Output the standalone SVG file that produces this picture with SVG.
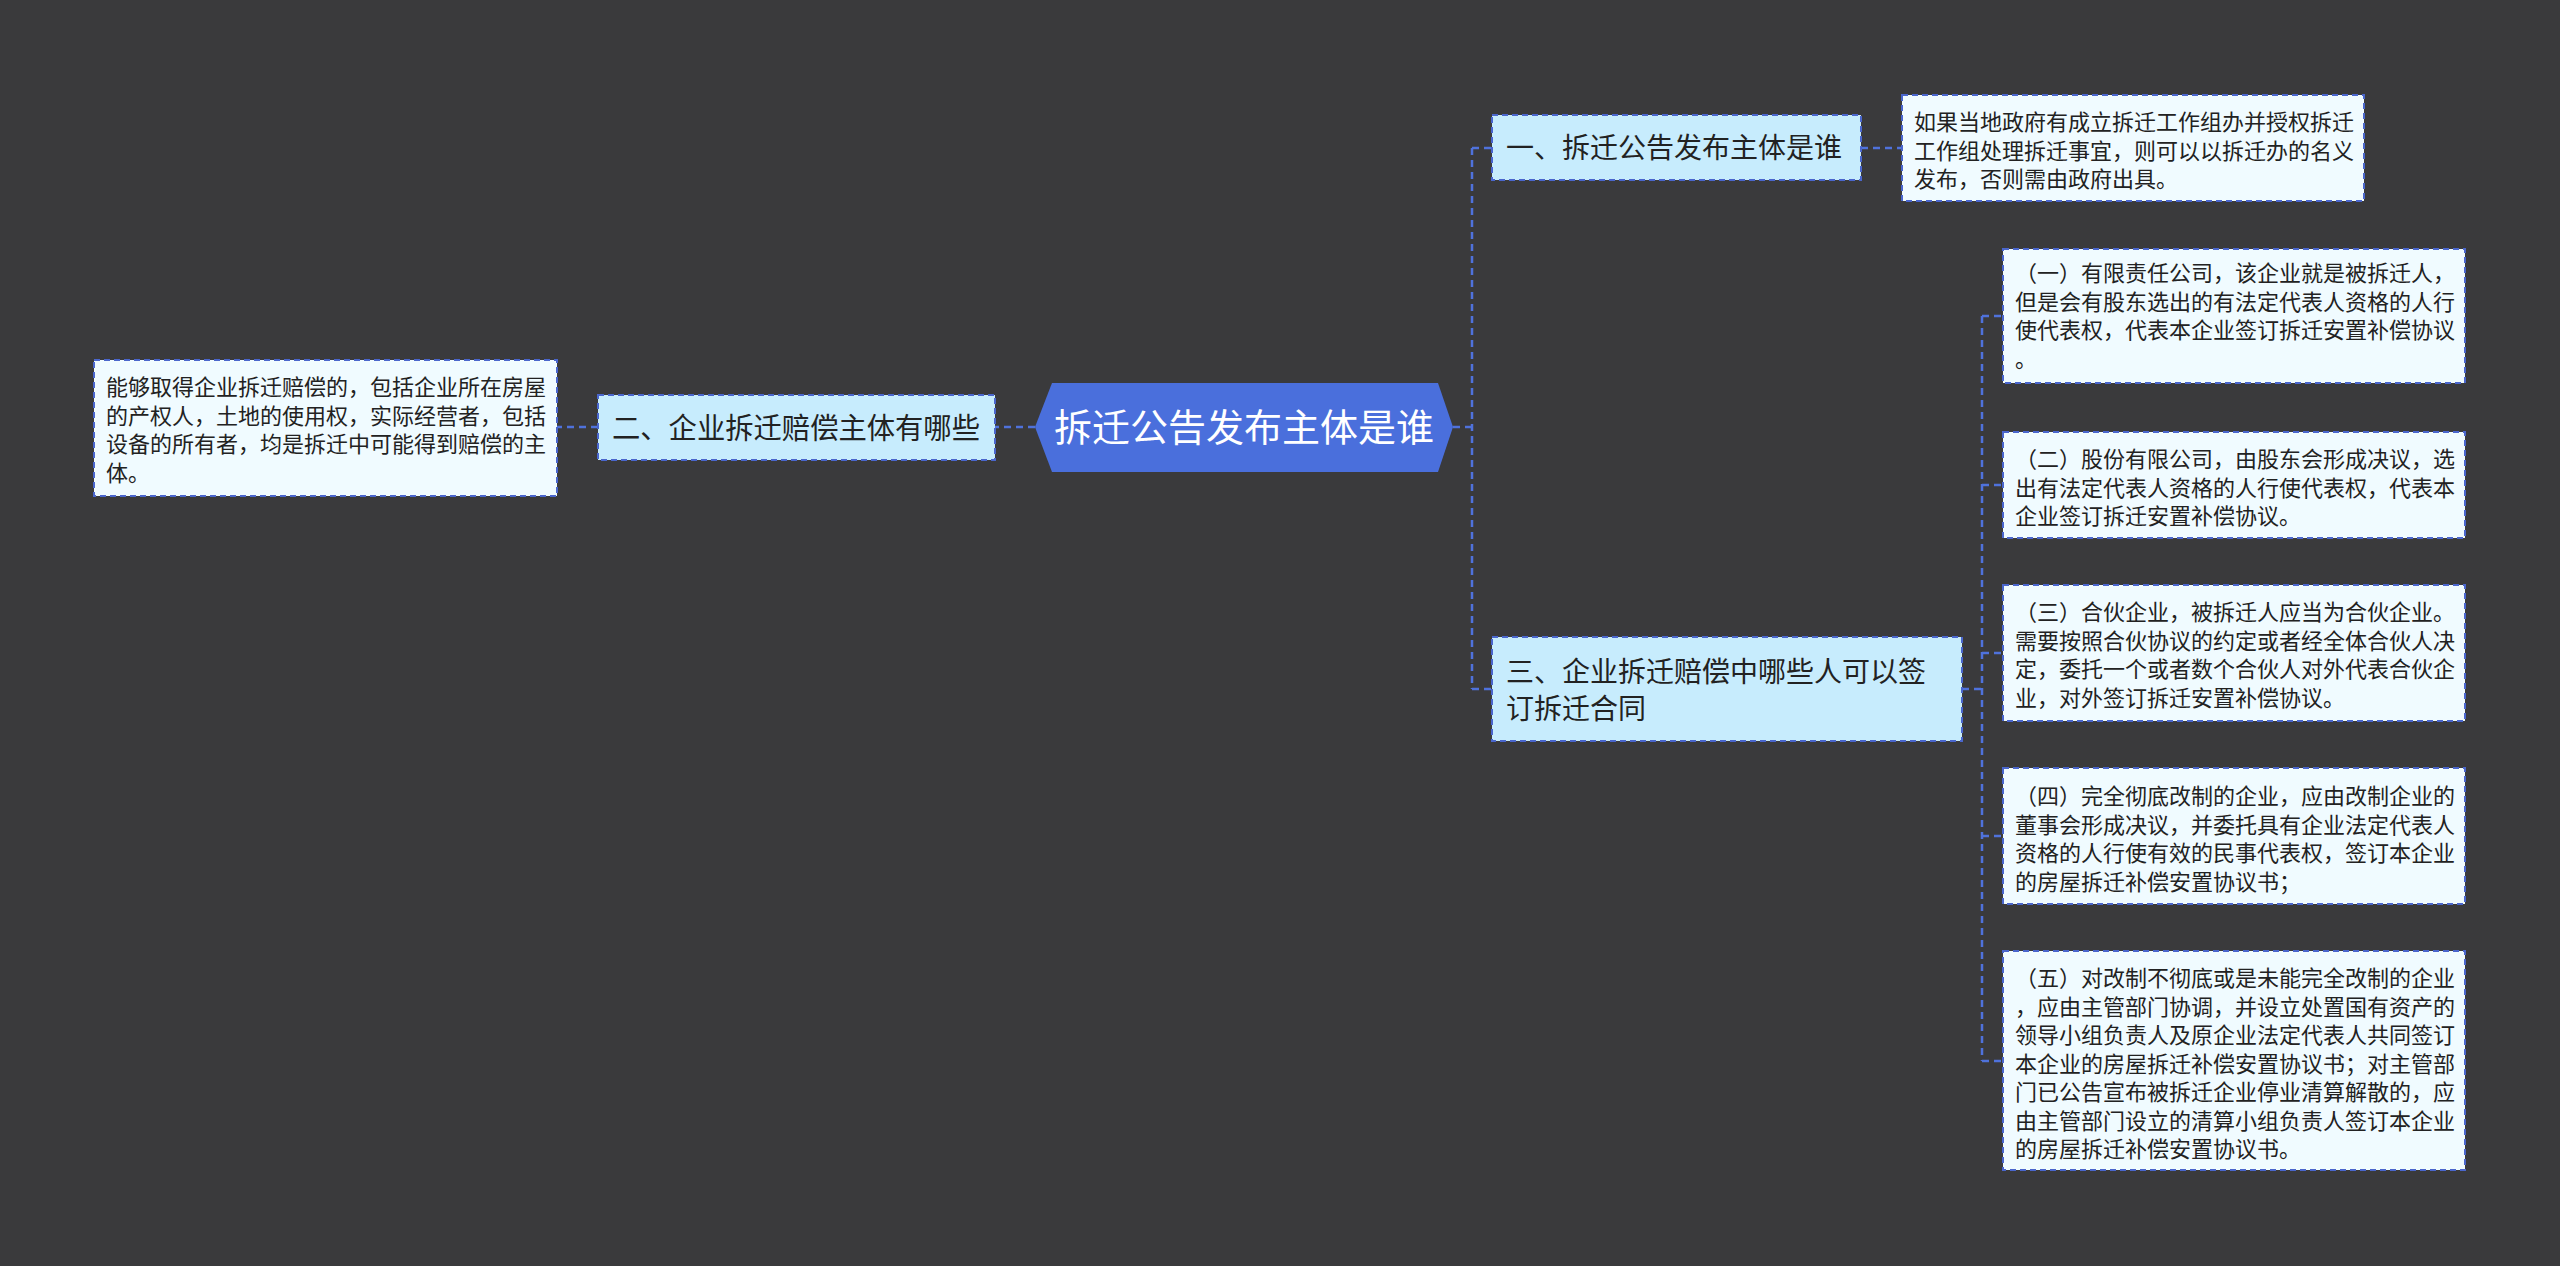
<svg xmlns="http://www.w3.org/2000/svg" width="2560" height="1266" viewBox="0 0 2560 1266">
<style>
text{font-family:"Noto Sans CJK SC","Noto Sans",sans-serif;fill:#222;}
.conn{fill:none;stroke:#4f72dc;stroke-width:2.5;stroke-dasharray:7 5;}
.topic{fill:#c7ecfd;stroke:#4a66cc;stroke-width:2;stroke-dasharray:6 4;}
.leaf{fill:#f0fbff;stroke:#4a66cc;stroke-width:2;stroke-dasharray:6 4;}
.t28{font-size:28px;}
.t30{font-size:29px;}
.t22{font-size:22px;}
</style>
<rect x="0" y="0" width="2560" height="1266" fill="#3a3a3c"/>
<g id="connectors">
<path class="conn" d="M1035,427 L995,427"/>
<path class="conn" d="M598,427 L557,427"/>
<path class="conn" d="M1453,427 L1472,427 M1472,148 L1472,689 M1472,148 L1492,148 M1472,689 L1492,689"/>
<path class="conn" d="M1861,148 L1902,148"/>
<path class="conn" d="M1962,689 L1982,689 M1982,316 L1982,1061 M1982,316 L2003,316 M1982,485 L2003,485 M1982,653 L2003,653 M1982,836 L2003,836 M1982,1061 L2003,1061"/>
</g>
<g id="root">
<polygon points="1035,427 1052,383 1438,383 1453,427 1438,472 1052,472" fill="#4a6fdc"/>
<text x="1244" y="441" text-anchor="middle" style="font-size:38px;fill:#ffffff">拆迁公告发布主体是谁</text>
</g>
<g id="node1">
<rect class="topic" x="1492" y="115" width="369" height="65"/>
<text class="t28" x="1506" y="158">一、拆迁公告发布主体是谁</text>
</g>
<g id="node1-detail">
<rect class="leaf" x="1902" y="95" width="462" height="106"/>
<text class="t22" x="1914" y="130">如果当地政府有成立拆迁工作组办并授权拆迁</text>
<text class="t22" x="1914" y="158.5">工作组处理拆迁事宜，则可以以拆迁办的名义</text>
<text class="t22" x="1914" y="187">发布，否则需由政府出具。</text>
</g>
<g id="node2">
<rect class="topic" x="598" y="395" width="397" height="65"/>
<text class="t30" x="612" y="439" textLength="368" lengthAdjust="spacingAndGlyphs">二、企业拆迁赔偿主体有哪些</text>
</g>
<g id="node2-detail">
<rect class="leaf" x="94" y="360" width="463" height="136"/>
<text class="t22" x="106" y="395">能够取得企业拆迁赔偿的，包括企业所在房屋</text>
<text class="t22" x="106" y="423.5">的产权人，土地的使用权，实际经营者，包括</text>
<text class="t22" x="106" y="452">设备的所有者，均是拆迁中可能得到赔偿的主</text>
<text class="t22" x="106" y="480.5">体。</text>
</g>
<g id="node3">
<rect class="topic" x="1492" y="637" width="470" height="104"/>
<text class="t28" x="1506" y="682">三、企业拆迁赔偿中哪些人可以签</text>
<text class="t28" x="1506" y="719">订拆迁合同</text>
</g>
<g id="node3-detail1">
<rect class="leaf" x="2003" y="249" width="462" height="134"/>
<text class="t22" x="2015" y="281">（一）有限责任公司，该企业就是被拆迁人，</text>
<text class="t22" x="2015" y="309.5">但是会有股东选出的有法定代表人资格的人行</text>
<text class="t22" x="2015" y="338">使代表权，代表本企业签订拆迁安置补偿协议</text>
<text class="t22" x="2015" y="366.5">。</text>
</g>
<g id="node3-detail2">
<rect class="leaf" x="2003" y="432" width="462" height="106"/>
<text class="t22" x="2015" y="467">（二）股份有限公司，由股东会形成决议，选</text>
<text class="t22" x="2015" y="495.5">出有法定代表人资格的人行使代表权，代表本</text>
<text class="t22" x="2015" y="524">企业签订拆迁安置补偿协议。</text>
</g>
<g id="node3-detail3">
<rect class="leaf" x="2003" y="585" width="462" height="136"/>
<text class="t22" x="2015" y="620">（三）合伙企业，被拆迁人应当为合伙企业。</text>
<text class="t22" x="2015" y="648.5">需要按照合伙协议的约定或者经全体合伙人决</text>
<text class="t22" x="2015" y="677">定，委托一个或者数个合伙人对外代表合伙企</text>
<text class="t22" x="2015" y="705.5">业，对外签订拆迁安置补偿协议。</text>
</g>
<g id="node3-detail4">
<rect class="leaf" x="2003" y="768" width="462" height="136"/>
<text class="t22" x="2015" y="804">（四）完全彻底改制的企业，应由改制企业的</text>
<text class="t22" x="2015" y="832.5">董事会形成决议，并委托具有企业法定代表人</text>
<text class="t22" x="2015" y="861">资格的人行使有效的民事代表权，签订本企业</text>
<text class="t22" x="2015" y="889.5">的房屋拆迁补偿安置协议书；</text>
</g>
<g id="node3-detail5">
<rect class="leaf" x="2003" y="951" width="462" height="219"/>
<text class="t22" x="2015" y="986">（五）对改制不彻底或是未能完全改制的企业</text>
<text class="t22" x="2015" y="1014.5">，应由主管部门协调，并设立处置国有资产的</text>
<text class="t22" x="2015" y="1043">领导小组负责人及原企业法定代表人共同签订</text>
<text class="t22" x="2015" y="1071.5">本企业的房屋拆迁补偿安置协议书；对主管部</text>
<text class="t22" x="2015" y="1100">门已公告宣布被拆迁企业停业清算解散的，应</text>
<text class="t22" x="2015" y="1128.5">由主管部门设立的清算小组负责人签订本企业</text>
<text class="t22" x="2015" y="1157">的房屋拆迁补偿安置协议书。</text>
</g>
</svg>
